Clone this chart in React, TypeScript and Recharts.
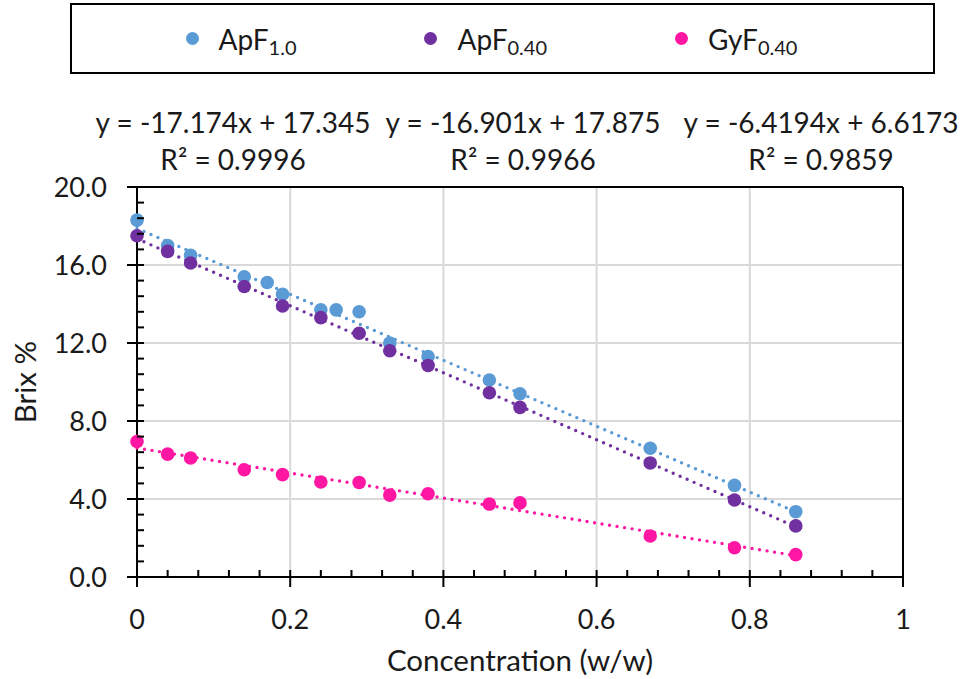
import {
  ScatterChart,
  Scatter,
  XAxis,
  YAxis,
  CartesianGrid,
  ReferenceLine,
  Legend,
} from 'recharts';

// ApF1.0
const apf10X = [0, 0.04, 0.07, 0.14, 0.17, 0.19, 0.24, 0.26, 0.29, 0.33, 0.38, 0.46, 0.5, 0.67, 0.78, 0.86];
const apf10Y = [18.3, 17.0, 16.5, 15.4, 15.1, 14.5, 13.7, 13.7, 13.6, 12.0, 11.3, 10.1, 9.4, 6.6, 4.7, 3.35];

// ApF0.40
const apf040X = [0, 0.04, 0.07, 0.14, 0.19, 0.24, 0.29, 0.33, 0.38, 0.46, 0.5, 0.67, 0.78, 0.86];
const apf040Y = [17.5, 16.7, 16.1, 14.9, 13.9, 13.3, 12.5, 11.6, 10.85, 9.45, 8.7, 5.85, 3.95, 2.62];

// GyF0.40
const gyf040X = [0, 0.04, 0.07, 0.14, 0.19, 0.24, 0.29, 0.33, 0.38, 0.46, 0.5, 0.67, 0.78, 0.86];
const gyf040Y = [6.95, 6.3, 6.1, 5.5, 5.25, 4.87, 4.85, 4.2, 4.27, 3.74, 3.8, 2.1, 1.5, 1.15];

// linear trendline coefficients (slope, intercept) per series
const trendSlopes = [-16.901, -17.174, -6.4194];
const trendIntercepts = [17.875, 17.345, 6.6173];

const equationLines = ['y = -17.174x + 17.345', 'y = -16.901x + 17.875', 'y = -6.4194x + 6.6173'];
const r2Lines = ['R² = 0.9996', 'R² = 0.9966', 'R² = 0.9859'];

const xMajorTicks = [0, 0.2, 0.4, 0.6, 0.8, 1];
const yMajorTicks = [0, 4, 8, 12, 16, 20];

const FONT = 'Lato, "Open Sans", sans-serif';

const series = [
  { name: 'ApF', sub: '1.0', color: '#5b9bd5', xs: apf10X, ys: apf10Y },
  { name: 'ApF', sub: '0.40', color: '#7030a0', xs: apf040X, ys: apf040Y },
  { name: 'GyF', sub: '0.40', color: '#ff17a4', xs: gyf040X, ys: gyf040Y },
];

const withMinor = (majors: number[], parts: number) => {
  const out: number[] = [];
  for (let i = 0; i < majors.length - 1; i++) {
    const step = (majors[i + 1] - majors[i]) / parts;
    for (let k = 0; k < parts; k++) out.push(Math.round((majors[i] + k * step) * 1000) / 1000);
  }
  out.push(majors[majors.length - 1]);
  return out;
};

const xTicks = withMinor(xMajorTicks, 5);
const yTicks = withMinor(yMajorTicks, 5);

const isMajor = (v: number, list: number[]) => list.some((m) => Math.abs(m - v) < 1e-6);

const XTick = (props: any) => {
  const { x, y, payload } = props;
  const major = isMajor(payload.value, xMajorTicks);
  return (
    <g>
      <line x1={x} x2={x} y1={y - 7} y2={major ? y + 10 : y} stroke="#000" strokeWidth={2} />
      {major && (
        <text x={x} y={y + 42} dy="0.36em" textAnchor="middle" fontSize={27} fill="#1a1a1a" fontFamily={FONT}>
          {String(payload.value)}
        </text>
      )}
    </g>
  );
};

const YTick = (props: any) => {
  const { x, y, payload } = props;
  const major = isMajor(payload.value, yMajorTicks);
  return (
    <g>
      <line x1={major ? x - 10 : x} x2={x + 7} y1={y} y2={y} stroke="#000" strokeWidth={2} />
      {major && (
        <text x={x - 30} y={y} dy="0.36em" textAnchor="end" fontSize={27} fill="#1a1a1a" fontFamily={FONT}>
          {payload.value.toFixed(1)}
        </text>
      )}
    </g>
  );
};

const LegendBox = () => (
  <div
    style={{
      boxSizing: 'border-box',
      width: '100%',
      height: '100%',
      border: '2px solid #000',
      display: 'flex',
      alignItems: 'center',
      justifyContent: 'center',
      gap: 128,
      fontFamily: FONT,
      fontSize: 28,
      color: '#1a1a1a',
      paddingRight: 22,
    }}
  >
    {series.map((s) => (
      <div key={s.name + s.sub} style={{ display: 'flex', alignItems: 'center' }}>
        <span style={{ width: 13, height: 13, borderRadius: 7, background: s.color, marginRight: 20 }} />
        <span>
          {s.name}
          <sub style={{ fontSize: 20, verticalAlign: '-5px', lineHeight: 0 }}>{s.sub}</sub>
        </span>
      </div>
    ))}
  </div>
);

export default function App() {
  const trendData = series.map((s, i) => {
    const x0 = Math.min(...s.xs);
    const x1 = Math.max(...s.xs);
    return [
      { x: x0, y: trendSlopes[i] * x0 + trendIntercepts[i] },
      { x: x1, y: trendSlopes[i] * x1 + trendIntercepts[i] },
    ];
  });
  const pointData = series.map((s) => s.xs.map((x, i) => ({ x, y: s.ys[i] })));

  return (
    <div style={{ position: 'absolute', left: 0, top: 0, width: 963, height: 679, background: '#fff' }}>
      <ScatterChart width={963} height={679} margin={{ top: 187, right: 60, bottom: 0, left: 0 }}>
        <CartesianGrid horizontalValues={yMajorTicks} verticalValues={xMajorTicks} stroke="#d9d9d9" strokeWidth={2} />
        <XAxis
          type="number"
          dataKey="x"
          domain={[0, 1]}
          ticks={xTicks}
          interval={0}
          height={102}
          tickSize={0}
          tickMargin={0}
          tickLine={false}
          axisLine={{ stroke: '#000', strokeWidth: 2 }}
          tick={<XTick />}
          label={{
            value: 'Concentration (w/w)',
            position: 'insideBottom',
            offset: 8,
            fontSize: 29.5,
            fill: '#1a1a1a',
            fontFamily: FONT,
          }}
        />
        <YAxis
          type="number"
          dataKey="y"
          domain={[0, 20]}
          ticks={yTicks}
          interval={0}
          width={137}
          tickSize={0}
          tickMargin={0}
          tickLine={false}
          axisLine={{ stroke: '#000', strokeWidth: 2 }}
          tick={<YTick />}
          label={{
            value: 'Brix %',
            angle: -90,
            position: 'center',
            dx: -43,
            fontSize: 29.5,
            fill: '#1a1a1a',
            fontFamily: FONT,
          }}
        />
        <ReferenceLine y={20} stroke="#000" strokeWidth={2} />
        <ReferenceLine x={1} stroke="#000" strokeWidth={2} />
        <Legend
          layout="horizontal"
          verticalAlign="middle"
          align="center"
          wrapperStyle={{ top: 3, left: 70, width: 865, height: 71 }}
          content={<LegendBox />}
        />
        {series.map((s, i) => (
          <Scatter
            key={'trend' + i}
            data={trendData[i]}
            fill={s.color}
            legendType="none"
            line={{ stroke: s.color, strokeWidth: 3.4, strokeDasharray: '0 7.6', strokeLinecap: 'round' }}
            shape={() => <g />}
            isAnimationActive={false}
          />
        ))}
        {series.map((s, i) => (
          <Scatter
            key={'pts' + i}
            name={s.name + s.sub}
            data={pointData[i]}
            fill={s.color}
            shape={(p: any) => <circle cx={p.cx} cy={p.cy} r={6.8} fill={s.color} />}
            isAnimationActive={false}
          />
        ))}
      </ScatterChart>
      {equationLines.map((eq, i) => (
        <div
          key={eq}
          style={{
            position: 'absolute',
            left: [233, 523, 821][i] - 200,
            top: 104,
            width: 400,
            textAlign: 'center',
            fontFamily: FONT,
            fontSize: 28,
            lineHeight: '37px',
            color: '#1a1a1a',
            whiteSpace: 'nowrap',
          }}
        >
          <div>{eq}</div>
          <div>{r2Lines[i]}</div>
        </div>
      ))}
    </div>
  );
}
